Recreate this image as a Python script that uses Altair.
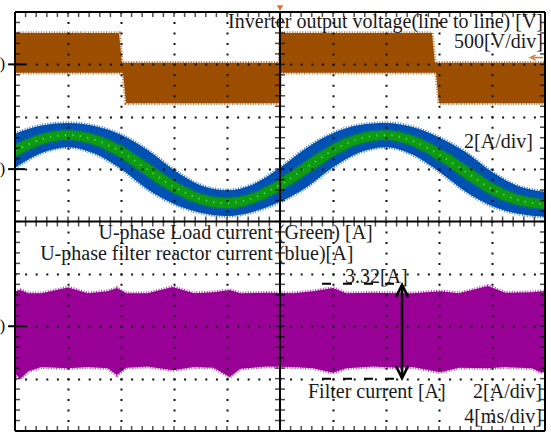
import altair as alt
import pandas as pd

# ---- scope settings ----
MS_PER_DIV = 4.0
V_PER_DIV = 500.0
A_PER_DIV = 2.0
volt_zero, cur_zero, filt_zero = 3.0, 1.0, -2.0   # channel ground levels (div)

# ---- inverter line-to-line voltage band (V, relative to its ground) ----
volt_t = [0, 7.85, 8.07, 8.15, 8.38, 19.96, 20.04, 31.47, 31.69, 31.77, 32.0, 40]
volt_hi = [300, 300, 15, 15, 15, 15, 300, 300, 15, 15, 15, 15]
volt_lo = [-80, -80, -80, -80, -370, -370, -80, -80, -80, -80, -370, -370]

# ---- U-phase currents (A) ----
cur_t = [0, 2, 4, 6, 8, 10, 12, 14, 16, 18, 20, 22, 24, 26, 28, 30, 32, 34, 36, 38, 40]
load_current = [0.70, 1.14, 1.30, 1.12, 0.66, -0.02, -0.68, -1.14, -1.30, -1.10, -0.60,
                0.06, 0.72, 1.16, 1.30, 1.08, 0.56, -0.10, -0.76, -1.18, -1.34]
reactor_ripple_pp = [1.30, 1.05, 0.92, 1.05, 1.30, 1.50, 1.30, 1.05, 0.98, 1.05, 1.30,
                     1.50, 1.30, 1.05, 0.92, 1.05, 1.30, 1.50, 1.30, 1.05, 0.95]
load_ripple_pp = [0.45, 0.38, 0.35, 0.38, 0.45, 0.50, 0.45, 0.38, 0.38, 0.38, 0.45,
                  0.50, 0.45, 0.38, 0.35, 0.38, 0.45, 0.50, 0.45, 0.38, 0.34]

# ---- filter current envelope (A) ----
filt_t = [0.0, 0.4, 1.0, 2.0, 4.0, 5.5, 7.0, 7.7, 8.4, 10.0, 11.9, 13.5, 15.0, 16.2, 17.0,
          19.0, 21.0, 22.5, 24.0, 25.0, 27.0, 29.0, 30.0, 32.1, 33.5, 35.7, 37.0, 39.0, 39.8, 40.0]
filt_hi = [1.34, 1.38, 1.26, 1.26, 1.48, 1.26, 1.34, 1.46, 1.26, 1.26, 1.50, 1.26, 1.30, 1.38, 1.26,
           1.28, 1.26, 1.34, 1.46, 1.26, 1.28, 1.26, 1.26, 1.34, 1.26, 1.54, 1.28, 1.30, 1.34, 1.30]
filt_lo = [-1.80, -2.00, -1.72, -1.56, -1.60, -1.56, -1.60, -1.86, -1.58, -1.54, -1.68, -1.56, -1.58, -1.94, -1.62,
           -1.54, -1.56, -1.60, -1.78, -1.60, -1.54, -1.58, -1.56, -1.76, -1.58, -1.60, -1.56, -1.60, -1.78, -1.70]

# ---- cursor measurement (div on screen) ----
cursor_t = [23.17, 29.21]
cursor_levels = [-1.19, -3.0]
arrow_t = 29.21
arrow_tips = [-1.21, -2.99]

# ---- annotations ----
labels_right = ["Inverter output voltage(line to line) [V]", "500[V/div]", "2[A/div]", "2[A/div]", "4[ms/div]"]
labels_right_t = [39.85, 39.85, 39.09, 39.77, 39.77]
labels_right_y = [3.694, 3.313, 1.403, -3.37, -3.847]
labels_left = ["U-phase Load current (Green) [A]", "U-phase filter reactor current (blue)[A]",
               "3.32[A]", "Filter current [A]"]
labels_left_t = [6.30, 1.90, 24.9, 22.11]
labels_left_y = [-0.334, -0.735, -1.174, -3.37]

# ---- frame ----
xs = alt.Scale(domain=[0, 40], nice=False, zero=False)
ys = alt.Scale(domain=[-4, 4], nice=False, zero=False)
xaxis = alt.Axis(values=[4, 8, 12, 16, 24, 28, 32, 36], grid=True, labels=False, ticks=False,
                 domain=False, title=None, gridColor="#111111", gridWidth=2,
                 gridDash=[2, 8.475], gridDashOffset=1, zindex=1)
yaxis = alt.Axis(values=[-3, -2, -1, 1, 2, 3], grid=True, labels=False, ticks=False,
                 domain=False, title=None, gridColor="#111111", gridWidth=2,
                 gridDash=[2, 8.6], gridDashOffset=1, zindex=1)


def X(f):
    return alt.X(f, type="quantitative", scale=xs, axis=xaxis)


def Y(f):
    return alt.Y(f, type="quantitative", scale=ys, axis=yaxis)


volt_df = pd.DataFrame({"t": volt_t,
                        "hi": [volt_zero + v / V_PER_DIV for v in volt_hi],
                        "lo": [volt_zero + v / V_PER_DIV for v in volt_lo]})
cur_df = pd.DataFrame({"t": cur_t,
                       "c": [cur_zero + i / A_PER_DIV for i in load_current]})
cur_df["b_hi"] = cur_df["c"] + pd.Series(reactor_ripple_pp) / A_PER_DIV / 2
cur_df["b_lo"] = cur_df["c"] - pd.Series(reactor_ripple_pp) / A_PER_DIV / 2
cur_df["g_hi"] = cur_df["c"] + pd.Series(load_ripple_pp) / A_PER_DIV / 2
cur_df["g_lo"] = cur_df["c"] - pd.Series(load_ripple_pp) / A_PER_DIV / 2
filt_df = pd.DataFrame({"t": filt_t,
                        "hi": [filt_zero + i / A_PER_DIV for i in filt_hi],
                        "lo": [filt_zero + i / A_PER_DIV for i in filt_lo]})


def band(df, hi, lo, color, interp):
    area = alt.Chart(df).mark_area(color=color, clip=True, interpolate=interp).encode(
        x=X("t"), y=Y(hi), y2=lo)
    fuzz = [alt.Chart(df).mark_line(color=color, clip=True, interpolate=interp, strokeWidth=3.5,
                                    strokeDash=[1, 1.6], opacity=0.75).encode(x=X("t"), y=Y(f))
            for f in (hi, lo)]
    return [area] + fuzz


volt = band(volt_df, "hi", "lo", "#9C4E00", "linear")
blue = band(cur_df, "b_hi", "b_lo", "#0051B3", "monotone")
green = band(cur_df, "g_hi", "g_lo", "#0E9A12", "monotone")
green_speck = alt.Chart(cur_df).mark_line(color="#45E045", clip=True, interpolate="monotone",
                                          strokeWidth=2, strokeDash=[1.5, 6], opacity=0.85).encode(
    x=X("t"), y=Y("c"))
purple = band(filt_df, "hi", "lo", "#980096", "linear")

# graticule ticks every 1/5 division
x_minor = [round(i * MS_PER_DIV / 5, 3) for i in range(51)]
y_minor = [round(-4 + i * 0.2, 3) for i in range(41)]
xt = pd.DataFrame({"t": x_minor})
yt = pd.DataFrame({"y": y_minor})


def ticks(df, orient, fixed_ch, fixed_val, clip):
    m = alt.Chart(df).mark_tick(orient=orient, size=10, thickness=1.5, color="black", clip=clip)
    if orient == "vertical":
        return m.encode(x=X("t"), y=alt.datum(fixed_val, type="quantitative", scale=ys, axis=yaxis))
    return m.encode(y=Y("y"), x=alt.datum(fixed_val, type="quantitative", scale=xs, axis=xaxis))


tick_layers = [
    ticks(xt, "vertical", "y", 0, False),
    ticks(yt, "horizontal", "x", 20, False),
    ticks(xt, "vertical", "y", 4, True),
    ticks(xt, "vertical", "y", -4, True),
    ticks(yt, "horizontal", "x", 0, True),
    ticks(yt, "horizontal", "x", 40, True),
]

frame_df = pd.DataFrame({"x": [0, 0, 0, 40, 0, 20],
                         "x2": [40, 40, 0, 40, 40, 20],
                         "y": [4, -4, -4, -4, 0, -4],
                         "y2": [4, -4, 4, 4, 0, 4]})
frame = alt.Chart(frame_df).mark_rule(color="black", strokeWidth=2).encode(
    x=X("x"), x2="x2", y=Y("y"), y2="y2")

# channel ground markers on the left
gnd_df = pd.DataFrame({"y": [volt_zero, cur_zero, filt_zero], "a": [-0.52] * 3, "b": [0.76] * 3,
                       "s": [")"] * 3, "tx": [-0.75] * 3})
gnd = alt.Chart(gnd_df).mark_rule(color="black", strokeWidth=2).encode(
    x=X("a"), x2="b", y=Y("y"))
gnd_txt = alt.Chart(gnd_df).mark_text(align="right", baseline="middle", font="Liberation Serif",
                                      fontSize=16, color="black").encode(
    x=X("tx"), y=Y("y"), text="s:N")

# cursors and arrow
cur_lines = pd.DataFrame({"a": [cursor_t[0]] * 2, "b": [cursor_t[1]] * 2, "y": cursor_levels})
cursors = alt.Chart(cur_lines).mark_rule(color="black", strokeWidth=2, strokeDash=[9, 12]).encode(
    x=X("a"), x2="b", y=Y("y"))
arrow_df = pd.DataFrame({"t": [arrow_t], "y": [arrow_tips[0]], "y2": [arrow_tips[1]]})
shaft = alt.Chart(arrow_df).mark_rule(color="black", strokeWidth=2.6).encode(
    x=X("t"), y=Y("y"), y2="y2")
head_top = alt.Chart(pd.DataFrame({"t": [arrow_t], "y": [arrow_tips[0]]})).mark_point(
    shape="M -1 2 L 0 0 L 1 2", size=150, filled=False, color="black", strokeWidth=2.6, opacity=1).encode(
    x=X("t"), y=Y("y"))
head_bot = alt.Chart(pd.DataFrame({"t": [arrow_t], "y": [arrow_tips[1]]})).mark_point(
    shape="M -1 -2 L 0 0 L 1 -2", size=150, filled=False, color="black", strokeWidth=2.6, opacity=1).encode(
    x=X("t"), y=Y("y"))

# texts
txt_r = alt.Chart(pd.DataFrame({"s": labels_right, "t": labels_right_t, "y": labels_right_y})).mark_text(
    align="right", baseline="alphabetic", font="Liberation Serif", fontSize=20, color="#1a1a1a").encode(
    x=X("t"), y=Y("y"), text="s:N")
txt_l = alt.Chart(pd.DataFrame({"s": labels_left, "t": labels_left_t, "y": labels_left_y})).mark_text(
    align="left", baseline="alphabetic", font="Liberation Serif", fontSize=20, color="#1a1a1a").encode(
    x=X("t"), y=Y("y"), text="s:N")

# trigger markers (time position at top, level at right)
trig = alt.Chart(pd.DataFrame({"t": [20], "y": [4]})).mark_point(
    shape="triangle-down", size=40, filled=True, color="#EE6A1E", opacity=1, yOffset=-4).encode(
    x=X("t"), y=Y("y"))
lvl_df = pd.DataFrame({"a": [39.1], "b": [39.85], "y": [3.13]})
lvl_line = alt.Chart(lvl_df).mark_rule(color="#D0782A", strokeWidth=1.5).encode(
    x=X("a"), x2="b", y=Y("y"))
lvl_head = alt.Chart(lvl_df).mark_point(shape="M 1 -1 L -1 0 L 1 1", size=25, filled=False,
                                        color="#D0782A", strokeWidth=1.5, opacity=1).encode(
    x=X("a"), y=Y("y"))

chart = alt.layer(
    *volt, *blue, *green, green_speck, *purple,
    *tick_layers, frame,
    gnd, gnd_txt, cursors, shaft, head_top, head_bot, txt_r, txt_l, trig, lvl_line, lvl_head
).properties(
    width=530, height=419,
    autosize=alt.AutoSizeParams(type="none"),
    padding={"left": 15, "top": 12, "right": 6, "bottom": 1},
    background="white",
).configure_view(stroke=None)

chart.save("out.html", embed_options={"renderer": "svg", "actions": False})
